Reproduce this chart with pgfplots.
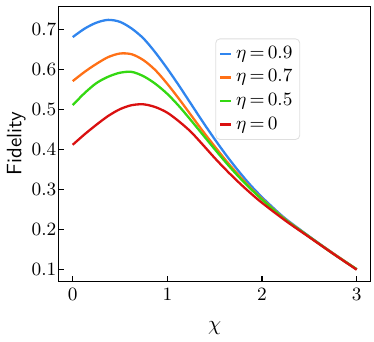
\documentclass[border=0pt]{standalone}
\usepackage{pgfplots}
\pgfplotsset{compat=1.18}
\usepackage{pgfplotstable}

\definecolor{cblue}{RGB}{48,133,238}
\definecolor{corange}{RGB}{255,112,22}
\definecolor{cgreen}{RGB}{52,216,18}
\definecolor{cred}{RGB}{218,16,16}

% eta = 0.9
\pgfplotstableread{
x F
0.000 0.681
0.125 0.702
0.250 0.717
0.375 0.724
0.500 0.719
0.625 0.702
0.750 0.677
0.875 0.642
1.000 0.602
1.125 0.559
1.250 0.514
1.375 0.469
1.500 0.426
1.625 0.385
1.750 0.347
1.875 0.312
2.000 0.281
2.125 0.253
2.250 0.227
2.500 0.183
2.750 0.141
3.000 0.101
}\etaA
% eta = 0.7
\pgfplotstableread{
x F
0.000 0.571
0.125 0.594
0.250 0.614
0.375 0.631
0.500 0.640
0.625 0.638
0.750 0.623
0.875 0.598
1.000 0.564
1.125 0.526
1.250 0.486
1.375 0.446
1.500 0.408
1.625 0.371
1.750 0.337
1.875 0.305
2.000 0.277
2.125 0.250
2.250 0.225
2.500 0.182
2.750 0.141
3.000 0.101
}\etaB
% eta = 0.5
\pgfplotstableread{
x F
0.000 0.511
0.125 0.541
0.250 0.566
0.375 0.582
0.500 0.592
0.625 0.594
0.750 0.583
0.875 0.564
1.000 0.539
1.125 0.508
1.250 0.473
1.375 0.437
1.500 0.401
1.625 0.366
1.750 0.333
1.875 0.303
2.000 0.275
2.125 0.249
2.250 0.224
2.500 0.182
2.750 0.140
3.000 0.101
}\etaC
% eta = 0
\pgfplotstableread{
x F
0.000 0.412
0.125 0.438
0.250 0.462
0.375 0.484
0.500 0.501
0.625 0.511
0.750 0.513
0.875 0.506
1.000 0.492
1.125 0.470
1.250 0.444
1.375 0.412
1.500 0.379
1.625 0.348
1.750 0.319
1.875 0.292
2.000 0.267
2.250 0.222
2.500 0.181
2.750 0.140
3.000 0.100
}\etaD

\begin{document}
\begin{tikzpicture}
\begin{axis}[
 scale only axis,
 width=149.7pt, height=131.9pt,
 xmin=-0.15, xmax=3.15,
 ymin=0.0705, ymax=0.758,
 xtick={0,1,2,3},
 ytick={0.1,0.2,0.3,0.4,0.5,0.6,0.7},
 yticklabel style={/pgf/number format/fixed,/pgf/number format/precision=1},
 tick align=inside,
 xtick pos=bottom, ytick pos=left,
 major tick length=2.8pt,
 tick style={black, line width=0.6pt},
 axis line style={line width=0.6pt},
 ticklabel style={font=\fontsize{9.5}{10}\selectfont},
 yticklabel shift=-2.5pt,
 xlabel={$\chi$},
 ylabel={\textsf{Fidelity}},
 ylabel shift=-4pt,
 xlabel shift=3pt,
 label style={font=\fontsize{10}{11}\selectfont},
 legend style={at={(0.502,0.883)}, anchor=north west, draw=gray!25, rounded corners=2pt,
   font=\fontsize{9}{10}\selectfont, row sep=0pt, inner sep=1.5pt},
 legend cell align=left,
 legend image post style={xscale=0.3},
 every axis plot/.append style={line width=1.1pt, smooth, no markers},
]
\addplot[cblue] table[x=x,y=F] {\etaA};
\addplot[corange] table[x=x,y=F] {\etaB};
\addplot[cgreen] table[x=x,y=F] {\etaC};
\addplot[cred] table[x=x,y=F] {\etaD};
\legend{$\eta\,{=}\,0.9$, $\eta\,{=}\,0.7$, $\eta\,{=}\,0.5$, $\eta\,{=}\,0$}
\end{axis}
\path ([xshift=1.5pt,yshift=3pt]current axis.north east);
\end{tikzpicture}
\end{document}
